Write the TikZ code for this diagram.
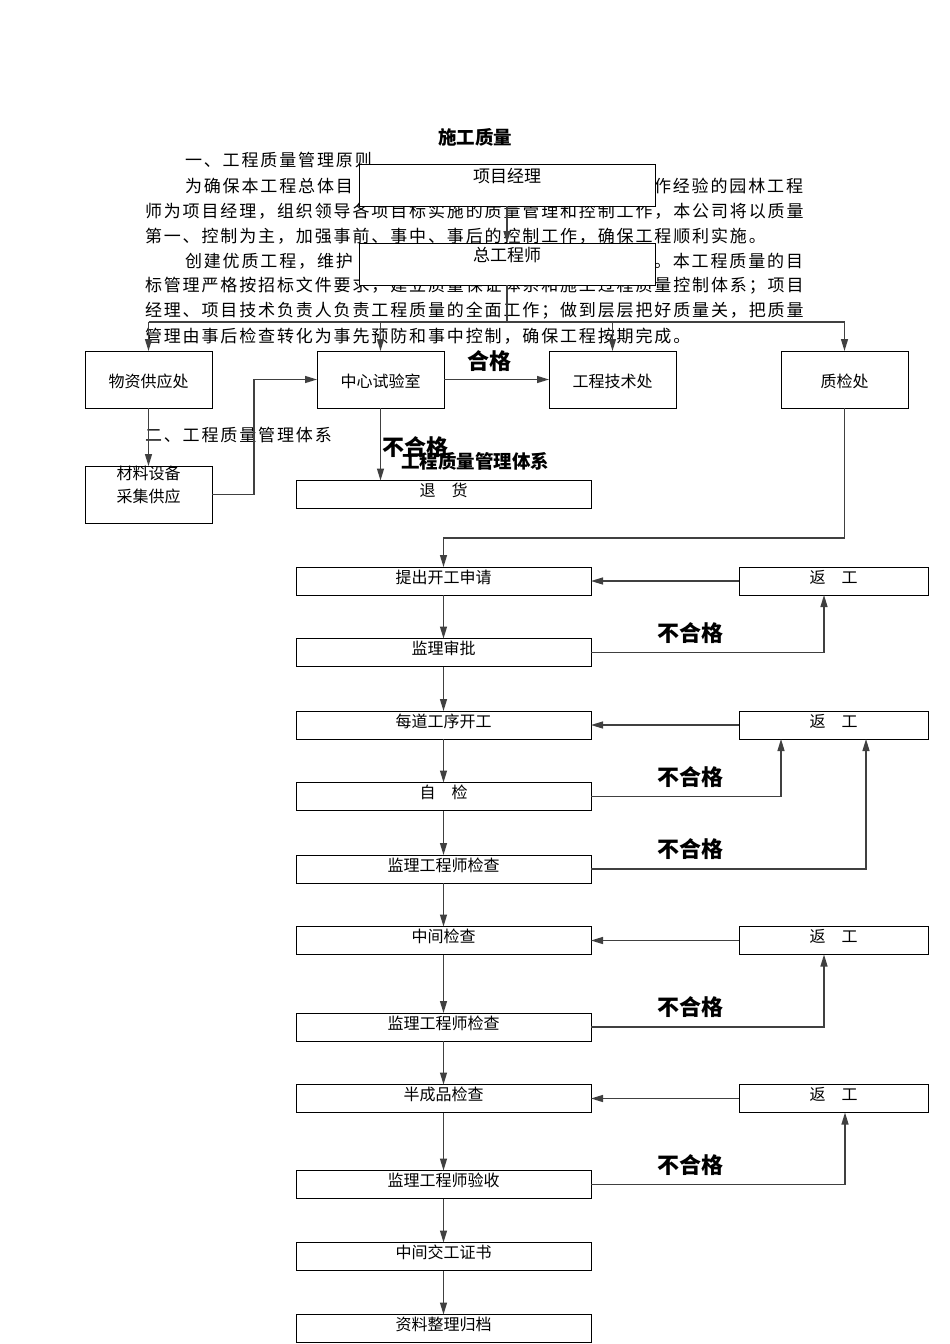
\documentclass[tikz,border=0pt]{standalone}
\usepackage{fontspec}
\setmainfont{Noto Sans CJK SC}
\newfontfamily\bodyfont[LetterSpace=11]{Noto Sans CJK SC}
\usetikzlibrary{arrows.meta}
\begin{document}
\begin{tikzpicture}[x=1pt,y=-1pt,
  every node/.style={inner sep=0pt,outer sep=0pt},
  body/.style={anchor=west,font=\bodyfont\fontsize{17}{17}\selectfont},
  topbox/.style={draw=black,line width=1pt,fill=white,minimum width=296pt,minimum height=42pt,text height=5pt,text depth=10pt,font=\fontsize{17}{17}\selectfont},
  rowbox/.style={draw=black,line width=1pt,fill=white,minimum width=127pt,minimum height=57pt,text height=16pt,text depth=0pt,font=\fontsize{16}{16}\selectfont},
  flowbox/.style={draw=black,line width=1pt,fill=white,minimum width=295pt,minimum height=28pt,text height=9pt,text depth=5pt,font=\fontsize{16}{16}\selectfont},
  rebox/.style={draw=black,line width=1pt,fill=white,minimum width=189pt,minimum height=28pt,text height=9pt,text depth=5pt,font=\fontsize{16}{16}\selectfont},
  boxtext/.style={font=\fontsize{16}{23}\selectfont,align=center},
  bad/.style={font=\bfseries\fontsize{22}{22}\selectfont},
  heading/.style={font=\bfseries\fontsize{18.5}{18.5}\selectfont},
  ln/.style={draw=black!75,line width=1.3pt},
  arr/.style={ln,-{Triangle[length=12pt,width=7pt]}}
]
\useasboundingbox[fill=white] (0,0) rectangle (950,1344);

% title and body text
\node[heading] (title) at (475,137) {施工质量};
\node[body] (l1) at (185,160) {一、工程质量管理原则};
\node[body] (l2a) at (185,186) {为确保本工程总体目};
\node[body] (l2b) at (654,186) {作经验的园林工程};
\node[body] (l3) at (145,211) {师为项目经理，组织领导各项目标实施的质量管理和控制工作，本公司将以质量};
\node[body] (l4) at (145,236) {第一、控制为主，加强事前、事中、事后的控制工作，确保工程顺利实施。};
\node[body] (l5a) at (185,261) {创建优质工程，维护};
\node[body] (l5b) at (654,261) {。本工程质量的目};
\node[body] (l6) at (145,286) {标管理严格按招标文件要求，建立质量保证体系和施工过程质量控制体系；项目};
\node[body] (l7) at (145,311) {经理、项目技术负责人负责工程质量的全面工作；做到层层把好质量关，把质量};
\node[body] (l8) at (145,336) {管理由事后检查转化为事先预防和事中控制，确保工程按期完成。};
\node[body] (l9) at (145,435) {二、工程质量管理体系};

% top boxes
\node[topbox] (pm) at (507,185) {项目经理};
\node[topbox] (ce) at (507,264) {总工程师};

% row of departments
\node[rowbox] (wz) at (148.5,379.5) {物资供应处};
\node[rowbox] (sy) at (380.5,379.5) {中心试验室};
\node[rowbox] (js) at (612.5,379.5) {工程技术处};
\node[rowbox] (zj) at (844.5,379.5) {质检处};
\node[rowbox,text height=0pt] (cl) at (148.5,494.5) {};
\node[boxtext] (cltxt) at (148.5,484.5) {材料设备\\采集供应};
\node[flowbox] (th) at (443.5,494.5) {退\hspace{16pt}货};

% main flow
\node[flowbox] (f1) at (443.5,581) {提出开工申请};
\node[flowbox] (f2) at (443.5,652.5) {监理审批};
\node[flowbox] (f3) at (443.5,725) {每道工序开工};
\node[flowbox] (f4) at (443.5,796.5) {自\hspace{16pt}检};
\node[flowbox] (f5) at (443.5,869) {监理工程师检查};
\node[flowbox] (f6) at (443.5,940.5) {中间检查};
\node[flowbox] (f7) at (443.5,1027) {监理工程师检查};
\node[flowbox] (f8) at (443.5,1098.5) {半成品检查};
\node[flowbox] (f9) at (443.5,1184.5) {监理工程师验收};
\node[flowbox] (f10) at (443.5,1256.5) {中间交工证书};
\node[flowbox] (f11) at (443.5,1328.5) {资料整理归档};

% rework boxes
\node[rebox] (r1) at (833.5,581) {返\hspace{16pt}工};
\node[rebox] (r2) at (833.5,725) {返\hspace{16pt}工};
\node[rebox] (r3) at (833.5,940.5) {返\hspace{16pt}工};
\node[rebox] (r4) at (833.5,1098.5) {返\hspace{16pt}工};

% helper coordinates
\coordinate (bus) at (507,322);
\coordinate (jog) at (254,0);
\coordinate (ret) at (0,538);
\coordinate (x824) at (824,0);
\coordinate (x781) at (781,0);
\coordinate (x866) at (866,0);
\coordinate (x845) at (845,0);

% top connectors
\draw[arr] (pm.south) -- (ce.north);
\draw[ln] (ce.south) -- (bus);
\draw[ln] (wz.north |- bus) -- (zj.north |- bus);
\draw[arr] (wz.north |- bus) -- (wz.north);
\draw[arr] (sy.north |- bus) -- (sy.north);
\draw[arr] (js.north |- bus) -- (js.north);
\draw[arr] (zj.north |- bus) -- (zj.north);

\draw[arr] (sy.east) -- (js.west);
\draw[arr] (wz.south) -- (cl.north);
\draw[arr] (cl.east) -- (jog |- cl.east) -- (jog |- sy.west) -- (sy.west);
\draw[arr] (sy.south) -- (sy.south |- th.north);
\draw[arr] (zj.south) -- (zj.south |- ret) -- (f1.north |- ret) -- (f1.north);

% flow chain
\draw[arr] (f1.south) -- (f2.north);
\draw[arr] (f2.south) -- (f3.north);
\draw[arr] (f3.south) -- (f4.north);
\draw[arr] (f4.south) -- (f5.north);
\draw[arr] (f5.south) -- (f6.north);
\draw[arr] (f6.south) -- (f7.north);
\draw[arr] (f7.south) -- (f8.north);
\draw[arr] (f8.south) -- (f9.north);
\draw[arr] (f9.south) -- (f10.north);
\draw[arr] (f10.south) -- (f11.north);

% rework loops
\draw[arr] (r1.west) -- (f1.east);
\draw[arr] (r2.west) -- (f3.east);
\draw[arr] (r3.west) -- (f6.east);
\draw[arr] (r4.west) -- (f8.east);
\draw[arr] (f2.east) -- (x824 |- f2.east) -- (x824 |- r1.south);
\draw[arr] (f4.east) -- (x781 |- f4.east) -- (x781 |- r2.south);
\draw[arr] (f5.east) -- (x866 |- f5.east) -- (x866 |- r2.south);
\draw[arr] (f7.east) -- (x824 |- f7.east) -- (x824 |- r3.south);
\draw[arr] (f9.east) -- (x845 |- f9.east) -- (x845 |- r4.south);

% labels
\node[bad] (ok) at (489,361) {合格};
\node[bad] (ng0) at (415,447) {不合格};
\node[heading] (sub) at (475,461) {工程质量管理体系};
\node[bad] (ng1) at (690,633) {不合格};
\node[bad] (ng2) at (690,777) {不合格};
\node[bad] (ng3) at (690,849) {不合格};
\node[bad] (ng4) at (690,1007) {不合格};
\node[bad] (ng5) at (690,1165) {不合格};
\end{tikzpicture}
\end{document}
